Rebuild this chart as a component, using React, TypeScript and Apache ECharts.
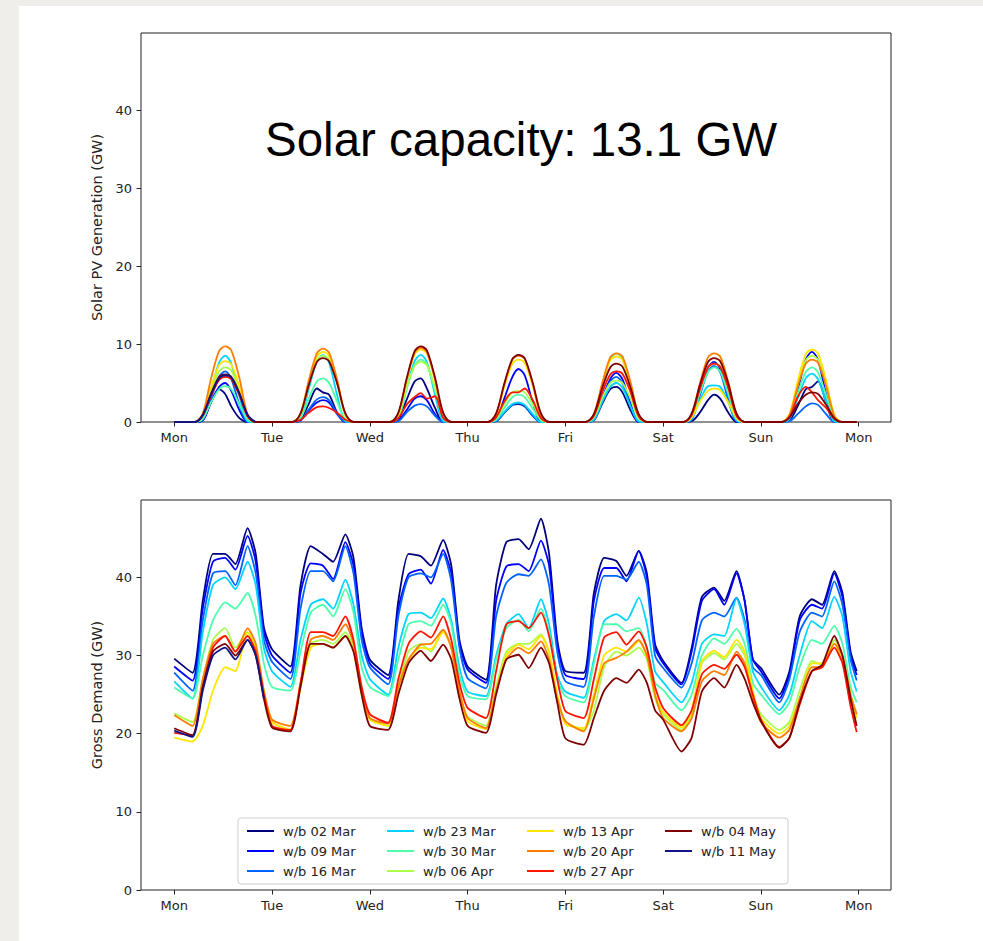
import React, { useEffect, useRef } from 'react';
import * as echarts from 'echarts';

// ---------- categories / labels ----------
const DAY_LABELS = ['Mon', 'Tue', 'Wed', 'Thu', 'Fri', 'Sat', 'Sun', 'Mon'];
const DAY_TICKS = [0, 1, 2, 3, 4, 5, 6, 7];
const Y_TICKS = [0, 10, 20, 30, 40];
const WEEKS = [
  'w/b 02 Mar', 'w/b 09 Mar', 'w/b 16 Mar', 'w/b 23 Mar', 'w/b 30 Mar', 'w/b 06 Apr',
  'w/b 13 Apr', 'w/b 20 Apr', 'w/b 27 Apr', 'w/b 04 May', 'w/b 11 May',
];
const COLORS = [
  '#00007f', '#0000ff', '#0063ff', '#00d4ff', '#4dffaa', '#aaff4d',
  '#ffe600', '#ff7d00', '#ff1400', '#7f0000', '#12128a',
];
const LEGEND_COLUMNS = [
  ['w/b 02 Mar', 'w/b 09 Mar', 'w/b 16 Mar'],
  ['w/b 23 Mar', 'w/b 30 Mar', 'w/b 06 Apr'],
  ['w/b 13 Apr', 'w/b 20 Apr', 'w/b 27 Apr'],
  ['w/b 04 May', 'w/b 11 May'],
];

// ---------- solar PV generation (GW) ----------
// sampled each day at these hours; night (before 5h, after 20h) is zero
const SOLAR_HOURS = [7, 9, 11, 12.5, 14, 16, 18];
const SOLAR_02MAR = [
  0.2, 2.5, 4.2, 3.6, 2.0, 0.5, 0,
  0.3, 2.3, 4.3, 3.8, 3.5, 1.2, 0,
  0.3, 2.8, 5.2, 5.6, 4.3, 1.8, 0,
  0.1, 1.2, 2.2, 2.3, 2.0, 0.8, 0,
  0.2, 2.3, 4.2, 4.5, 3.8, 1.5, 0,
  0.1, 1.2, 2.8, 3.5, 3.0, 1.2, 0,
  0.2, 2.0, 4.2, 4.5, 5.2, 2.5, 0,
];
const SOLAR_09MAR = [
  0.2, 2.5, 4.5, 5.0, 4.0, 1.5, 0,
  0.2, 1.5, 2.5, 2.8, 2.5, 1.0, 0,
  0.2, 1.5, 3.0, 3.3, 2.8, 1.0, 0,
  0.3, 3.0, 5.8, 6.8, 6.0, 2.5, 0,
  0.3, 3.0, 5.5, 6.3, 5.5, 2.3, 0,
  0.4, 3.5, 7.0, 7.7, 6.8, 3.0, 0.1,
  0.4, 4.0, 8.0, 9.0, 8.0, 3.5, 0.1,
];
const SOLAR_16MAR = [
  0.3, 3.0, 5.8, 6.5, 5.5, 2.2, 0,
  0.2, 1.6, 2.9, 3.2, 2.8, 1.1, 0,
  0.1, 1.2, 2.1, 2.3, 2.0, 0.8, 0,
  0.1, 1.2, 2.2, 2.4, 2.1, 0.8, 0,
  0.3, 2.8, 5.2, 5.8, 5.0, 2.0, 0,
  0.3, 3.4, 6.5, 7.2, 6.4, 2.8, 0.1,
  0.1, 1.0, 2.0, 2.4, 2.2, 1.0, 0,
];
const SOLAR_23MAR = [
  0.5, 4.0, 7.6, 8.5, 7.5, 3.3, 0.1,
  0.5, 4.2, 7.8, 8.6, 7.6, 3.4, 0.1,
  0.5, 4.2, 7.8, 8.6, 7.7, 3.5, 0.1,
  0.2, 1.3, 2.3, 2.5, 2.2, 1.0, 0,
  0.3, 2.5, 4.5, 5.0, 4.4, 2.0, 0.1,
  0.4, 2.8, 4.6, 4.7, 4.5, 2.5, 0.2,
  0.4, 3.0, 5.6, 6.2, 5.5, 2.6, 0.1,
];
const SOLAR_30MAR = [
  0.4, 2.5, 4.2, 4.6, 4.2, 2.2, 0.3,
  0.5, 3.0, 5.2, 5.6, 5.0, 2.6, 0.3,
  0.6, 4.2, 7.3, 8.0, 7.4, 4.0, 0.4,
  0.3, 1.8, 3.2, 3.5, 3.2, 1.7, 0.2,
  0.7, 4.6, 8.0, 8.8, 8.1, 4.4, 0.5,
  0.6, 3.7, 6.4, 7.0, 6.5, 3.5, 0.4,
  0.6, 3.7, 6.4, 7.0, 6.4, 3.4, 0.4,
];
const SOLAR_06APR = [
  0.8, 3.9, 6.5, 7.0, 6.6, 4.0, 0.7,
  0.9, 4.7, 7.9, 8.5, 8.0, 4.9, 0.8,
  0.8, 4.3, 7.2, 7.7, 7.3, 4.4, 0.7,
  0.5, 2.3, 3.8, 4.0, 3.8, 2.3, 0.4,
  0.6, 3.0, 5.0, 5.3, 5.0, 3.0, 0.5,
  0.8, 4.2, 7.0, 7.5, 7.1, 4.3, 0.7,
  0.9, 4.7, 7.9, 8.5, 8.0, 4.9, 0.8,
];
const SOLAR_13APR = [
  0.9, 4.4, 7.3, 7.8, 7.4, 4.5, 0.8,
  1.0, 5.0, 8.4, 9.0, 8.5, 5.2, 0.9,
  1.0, 5.2, 8.7, 9.3, 8.8, 5.3, 0.9,
  0.9, 4.5, 7.5, 8.0, 7.6, 4.6, 0.8,
  0.9, 4.7, 7.9, 8.4, 8.0, 4.8, 0.8,
  0.6, 2.6, 4.0, 4.3, 4.1, 2.5, 0.5,
  1.0, 5.2, 8.7, 9.3, 8.8, 5.3, 0.9,
];
const SOLAR_20APR = [
  1.1, 5.5, 9.1, 9.7, 9.2, 5.6, 1.0,
  1.1, 5.3, 8.8, 9.4, 8.9, 5.4, 1.0,
  1.1, 5.3, 8.9, 9.5, 9.0, 5.5, 1.0,
  1.0, 4.8, 8.0, 8.5, 8.1, 4.9, 0.9,
  1.0, 4.9, 8.3, 8.8, 8.4, 5.1, 0.9,
  1.0, 4.9, 8.3, 8.8, 8.4, 5.1, 0.9,
  0.9, 4.5, 7.5, 8.0, 7.6, 4.6, 0.8,
];
const SOLAR_27APR = [
  0.8, 3.3, 5.4, 5.8, 5.5, 3.4, 0.7,
  0.3, 1.2, 1.9, 2.0, 1.8, 1.2, 0.3,
  0.5, 2.2, 3.2, 3.7, 3.0, 3.3, 0.5,
  0.6, 2.6, 3.8, 3.8, 4.3, 2.8, 0.5,
  0.8, 3.7, 6.1, 6.5, 6.2, 3.8, 0.7,
  0.9, 4.2, 7.0, 7.5, 7.1, 4.3, 0.8,
  0.6, 3.2, 4.5, 3.8, 2.8, 1.8, 0.4,
];
const SOLAR_04MAY = [
  0.9, 3.6, 5.8, 6.1, 5.8, 3.7, 0.9,
  1.1, 4.7, 7.7, 8.2, 7.8, 4.9, 1.1,
  1.2, 5.5, 9.1, 9.7, 9.2, 5.7, 1.2,
  1.1, 4.9, 8.1, 8.6, 8.2, 5.0, 1.1,
  1.0, 4.3, 7.0, 7.5, 7.1, 4.4, 1.0,
  1.1, 4.7, 7.7, 8.2, 7.8, 4.9, 1.1,
  0.6, 2.3, 3.5, 3.8, 3.6, 2.2, 0.5,
];
const SOLAR_11MAY = [
  0.9, 3.5, 5.6, 6.0, 5.7, 3.6, 0.9,
];

// ---------- gross demand (GW) ----------
// sampled each day at these hours, plus a last value at Sun 23:30
const DEMAND_HOURS = [0, 4.5, 7, 9.5, 12.5, 15, 18, 20, 22];
const DEMAND_02MAR = [
  29.6, 27.8, 37, 43, 43, 41.7, 46.3, 43, 33.6,
  30.8, 28.6, 39, 44, 43, 42, 45.5, 42.5, 33.5,
  29.5, 27.5, 37, 43, 42.7, 41.5, 44.8, 41.5, 32,
  28.6, 26.9, 39, 44.5, 44.9, 43.6, 47.5, 43, 32,
  28, 27.8, 38, 42.5, 42.1, 40.2, 43.4, 40.5, 31.5,
  29.3, 26.5, 31, 37.5, 38.7, 37, 40.8, 37, 29.5,
  28.4, 25, 28, 35, 37.2, 36.5, 40.8, 38, 30.5,
  28,
];
const DEMAND_09MAR = [
  28.6, 26.8, 36, 42, 42.5, 41, 45.3, 42, 33,
  30, 27.8, 38, 41.8, 41.5, 39.8, 44.5, 41.5, 33,
  29, 27, 36, 40.4, 41, 39.2, 43.5, 40.5, 31.5,
  28.2, 26.5, 37, 41.4, 41.7, 40.8, 44.7, 41.5, 31.5,
  27.5, 27, 37, 41.2, 41.2, 39.5, 43.4, 40, 31,
  29, 26.3, 30.5, 37, 38.5, 36.5, 40.5, 37, 29.5,
  28, 24.5, 27.5, 34.5, 36.5, 36, 40.5, 37.5, 30,
  27.5,
];
const DEMAND_16MAR = [
  27.8, 25.5, 34.5, 40.5, 40.8, 39, 44, 40.5, 32,
  29.2, 27, 36, 40.8, 40.8, 39.5, 44, 40.5, 32,
  28.5, 26.3, 35, 40, 40.5, 40, 43, 39.5, 31,
  27.1, 25.8, 35, 39.3, 40.4, 40.2, 42.3, 39, 30.5,
  26.7, 26, 35, 40.2, 40.2, 39.7, 42, 39, 30,
  28.4, 25.9, 29, 34.5, 35.5, 35, 37.4, 34.5, 28.5,
  27.5, 24, 27, 33, 35.5, 35, 39.5, 36.5, 29.5,
  26.8,
];
const DEMAND_23MAR = [
  26.7, 24.5, 33, 39, 40, 38.5, 42, 39, 31,
  28, 26, 32, 36.5, 37.2, 36, 39.7, 36.5, 30,
  27, 25, 31, 35.3, 35.5, 34.8, 37.3, 34.5, 28.5,
  25.4, 24.8, 30, 34, 35.3, 33.5, 37.2, 34, 27.5,
  25.4, 24.6, 29.5, 34.4, 35.3, 34.5, 37.4, 34, 28,
  26.6, 24, 26.5, 31.5, 32.7, 32.5, 37.3, 34, 28,
  26, 23, 25, 30, 34.4, 33.5, 37.5, 35, 28,
  25.4,
];
const DEMAND_30MAR = [
  25.9, 24.5, 30, 34.5, 36.8, 36, 38, 35, 29,
  26, 25.5, 30.5, 35.5, 36.5, 35, 38.5, 35.5, 28.5,
  26, 24.8, 29.5, 34, 34.4, 33.8, 36.5, 34, 27.5,
  24.8, 24.4, 29.5, 33.5, 34.6, 33.1, 36, 33, 27,
  24.8, 24, 29, 34, 34, 33.1, 33.5, 31, 26.5,
  25.6, 23, 25, 30, 32.2, 31.5, 33.4, 31.5, 26.5,
  25, 22.5, 24, 28.5, 32, 31.5, 33.8, 31.5, 26,
  24,
];
const DEMAND_06APR = [
  22.6, 21.5, 27, 32, 33.5, 31, 33, 31, 25.5,
  21.5, 20.5, 26, 31.5, 32, 31.5, 33, 31, 25,
  22, 21, 26, 30.5, 31.5, 30.5, 33.2, 31, 25,
  22.2, 21, 26, 30.5, 31.5, 31.5, 32.7, 30.5, 25,
  21.6, 20.5, 23, 28.5, 30.5, 30, 31, 29.5, 24.5,
  22.5, 20.5, 22.5, 29, 30.3, 29.5, 31.5, 30, 25,
  22.5, 20.5, 21.5, 25.5, 29.3, 28.8, 32, 30, 25,
  22.4,
];
const DEMAND_13APR = [
  19.5, 19, 21, 25.5, 28.5, 28, 33, 31, 25,
  21.5, 20.5, 26, 31, 31.5, 31, 32.5, 30.5, 25,
  21.8, 21, 26, 29.5, 31, 30.8, 33, 31, 25,
  21.6, 20.6, 25.5, 30, 31.4, 30.8, 32.5, 30.5, 25,
  21.2, 20.7, 25, 30, 31, 30.5, 31.8, 30, 25,
  22.8, 20.8, 23, 29.3, 30.6, 29.8, 32, 30.5, 25.5,
  22, 20, 21, 24.5, 29, 29, 31.5, 29.5, 24.5,
  22,
];
const DEMAND_20APR = [
  22.4, 21, 27, 31.5, 32.5, 30.5, 33.5, 31.5, 25.5,
  21.8, 21, 26.5, 32, 32.5, 32, 34, 31.5, 25.5,
  22, 21.3, 26, 29.5, 31.4, 31.5, 33.3, 31, 25.5,
  22, 20.7, 25.5, 29.5, 31, 30.3, 31.8, 29.5, 24.5,
  21.6, 20.3, 24.5, 29, 29.7, 30.5, 32, 30, 25,
  22, 20.3, 22, 26.7, 28, 27.5, 30.5, 29, 24.5,
  21.5, 19.5, 20.5, 24.5, 28.5, 28.5, 31.5, 30, 25,
  22.5,
];
const DEMAND_27APR = [
  20.1, 19.8, 26, 31, 32.5, 30.5, 32.5, 30.5, 25,
  21, 20.5, 26.5, 33, 33, 32.5, 35, 32, 26,
  22.5, 21.4, 27, 31.5, 33.1, 32.3, 35, 32, 26.5,
  23.3, 22, 28, 34, 34.4, 33.5, 35.5, 32.5, 27,
  22.9, 22, 27, 32.3, 33, 31.4, 33.1, 31, 26,
  23.3, 21.1, 23, 27.6, 28.8, 28.3, 30.1, 28.5, 25,
  21.8, 18.3, 19.5, 23.7, 28, 28.5, 31, 29, 23.5,
  20.2,
];
const DEMAND_04MAY = [
  20.7, 19.8, 26, 30.5, 31.5, 30, 32, 30, 24.5,
  20.8, 20.3, 26, 31.5, 31.5, 31, 32.5, 30.5, 25,
  21, 20.5, 25, 29, 30.6, 29.3, 31.4, 29.5, 24.5,
  21, 20.1, 25, 29.5, 30.1, 28.4, 31, 29, 24,
  19.4, 18.6, 22, 25.5, 27.1, 26.5, 28.2, 26.5, 23,
  21.8, 17.7, 19.5, 25.4, 27.1, 25.9, 28.8, 27, 24,
  21.6, 18.2, 19.5, 24, 28, 28.8, 32.5, 30, 24.5,
  21,
];
const DEMAND_11MAY = [
  20.4, 19.6, 25.5, 30, 31, 29.5, 32, 30, 24.5,
];

const SOLAR = [
  SOLAR_02MAR, SOLAR_09MAR, SOLAR_16MAR, SOLAR_23MAR, SOLAR_30MAR, SOLAR_06APR,
  SOLAR_13APR, SOLAR_20APR, SOLAR_27APR, SOLAR_04MAY, SOLAR_11MAY,
];
const DEMAND = [
  DEMAND_02MAR, DEMAND_09MAR, DEMAND_16MAR, DEMAND_23MAR, DEMAND_30MAR, DEMAND_06APR,
  DEMAND_13APR, DEMAND_20APR, DEMAND_27APR, DEMAND_04MAY, DEMAND_11MAY,
];

// ---------- build [day, value] points ----------
function solarPoints(vals: number[]): number[][] {
  const pts: number[][] = [[0, 0]];
  const n = SOLAR_HOURS.length;
  const days = Math.floor(vals.length / n);
  for (let d = 0; d < days; d++) {
    pts.push([d + 5 / 24, 0]);
    for (let j = 0; j < n; j++) pts.push([d + SOLAR_HOURS[j] / 24, vals[d * n + j]]);
    pts.push([d + 20 / 24, 0]);
  }
  if (days === 7) pts.push([6 + 23.5 / 24, 0]);
  return pts;
}
function demandPoints(vals: number[]): number[][] {
  const pts: number[][] = [];
  let i = 0;
  for (let d = 0; d < 7; d++) {
    for (const h of DEMAND_HOURS) {
      if (i < vals.length) pts.push([d + h / 24, vals[i++]]);
    }
  }
  if (i < vals.length) pts.push([6 + 23.5 / 24, vals[i]]);
  return pts;
}

const FONT = 'DejaVu Sans';
const TXT = '#222';

function xAxis(gridIndex: number) {
  return {
    type: 'value', gridIndex, min: -0.34, max: 7.33,
    axisLine: { show: false, onZero: false },
    splitLine: { show: false },
    axisTick: { show: true, length: 4.5, customValues: DAY_TICKS, lineStyle: { color: TXT, width: 1 } },
    axisLabel: {
      customValues: DAY_TICKS, margin: 9, fontSize: 13, fontFamily: FONT, color: TXT,
      formatter: (v: number) => DAY_LABELS[Math.round(v)] ?? '',
    },
  };
}
function yAxis(gridIndex: number, name: string) {
  return {
    type: 'value', gridIndex, min: 0, max: 49.9,
    name, nameLocation: 'middle', nameGap: 31,
    nameTextStyle: { fontSize: 14.5, fontFamily: FONT, color: TXT },
    axisLine: { show: false, onZero: false },
    splitLine: { show: false },
    axisTick: { show: true, length: 4.5, customValues: Y_TICKS, lineStyle: { color: TXT, width: 1 } },
    axisLabel: { customValues: Y_TICKS, margin: 9, fontSize: 13, fontFamily: FONT, color: TXT },
  };
}

function buildOption() {
  const series: any[] = [];
  WEEKS.forEach((w, i) => {
    series.push({
      type: 'line', name: w, xAxisIndex: 0, yAxisIndex: 0,
      data: solarPoints(SOLAR[i]), showSymbol: false, smooth: 0.3, clip: true,
      lineStyle: { width: 1.8, color: COLORS[i] }, itemStyle: { color: COLORS[i] },
    });
  });
  WEEKS.forEach((w, i) => {
    series.push({
      type: 'line', name: w, xAxisIndex: 1, yAxisIndex: 1,
      data: demandPoints(DEMAND[i]), showSymbol: false, smooth: 0.2, clip: true,
      lineStyle: { width: 1.8, color: COLORS[i] }, itemStyle: { color: COLORS[i] },
    });
  });
  const legendLefts = [247, 387, 527, 665];
  const legends = LEGEND_COLUMNS.map((col, k) => ({
    data: col, orient: 'vertical', left: legendLefts[k], top: 821,
    icon: 'rect', itemWidth: 27, itemHeight: 2, itemGap: 0, padding: 0,
    selectedMode: false,
    textStyle: { fontSize: 13, fontFamily: FONT, color: TXT, lineHeight: 20, padding: [0, 0, 0, 4] },
  }));
  return {
    animation: false,
    backgroundColor: 'transparent',
    grid: [
      { left: 141, top: 33, width: 750, height: 389, show: true, borderColor: TXT, borderWidth: 1, backgroundColor: 'transparent' },
      { left: 141, top: 500, width: 750, height: 390, show: true, borderColor: TXT, borderWidth: 1, backgroundColor: 'transparent' },
    ],
    xAxis: [xAxis(0), xAxis(1)],
    yAxis: [yAxis(0, 'Solar PV Generation (GW)'), yAxis(1, 'Gross Demand (GW)')],
    legend: legends,
    graphic: [
      {
        type: 'rect', shape: { x: 238, y: 818, width: 550, height: 66, r: 3 },
        style: { fill: '#fff', stroke: '#cccccc', lineWidth: 1 }, z: 1,
      },
      {
        type: 'text', x: 265, y: 139,
        style: {
          text: 'Solar capacity: 13.1 GW', fontSize: 47.5, fontFamily: 'Liberation Sans',
          fill: '#000', align: 'left', verticalAlign: 'middle',
        },
      },
    ],
    series,
  };
}

export default function App() {
  const ref = useRef<HTMLDivElement>(null);
  useEffect(() => {
    if (!ref.current) return;
    const chart = echarts.init(ref.current, null, { renderer: 'svg' });
    chart.setOption(buildOption() as any);
    return () => chart.dispose();
  }, []);
  return (
    <div style={{ position: 'fixed', left: 0, top: 0, width: 983, height: 941, background: '#efeeea', overflow: 'hidden' }}>
      <div style={{ position: 'absolute', left: 19, top: 6, right: 0, bottom: 0, background: '#ffffff' }} />
      <div ref={ref} style={{ position: 'absolute', left: 0, top: 0, width: 983, height: 941 }} />
    </div>
  );
}
